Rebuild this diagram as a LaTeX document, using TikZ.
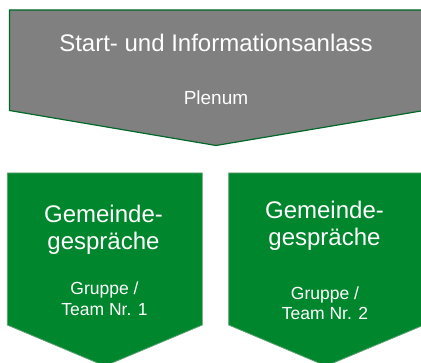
\documentclass[tikz,border=0pt]{standalone}
\usepackage{fontspec}
\setmainfont{Liberation Sans}
\definecolor{topgray}{RGB}{128,128,128}
\definecolor{topline}{RGB}{0,105,40}
\definecolor{boxgreen}{RGB}{0,134,45}
\definecolor{boxline}{RGB}{95,160,115}
\tikzset{
  topshape/.style={fill=topgray, draw=topline, line width=1.2pt, line join=miter},
  greenshape/.style={fill=boxgreen, draw=boxline, line width=0.8pt, line join=miter},
  bigtxt/.style={text=white, inner sep=0pt, anchor=base, font=\fontsize{24}{26}\selectfont},
  midtxt/.style={text=white, inner sep=0pt, anchor=base, font=\fontsize{19}{21}\selectfont},
  smalltxt/.style={text=white, inner sep=0pt, anchor=base, font=\fontsize{17.5}{20}\selectfont}
}
\begin{document}
\begin{tikzpicture}[x=1pt,y=-1pt]
\useasboundingbox (0,0) rectangle (421,363);
\clip (0,0) rectangle (421,363);
% top gray pentagon
\draw[topshape] (9.5,10) -- (424,10) -- (424,110.5) -- (216,145.5) -- (9.5,110.5) -- cycle;
% green pentagons
\draw[greenshape] (7.3,173) -- (202.3,173) -- (202.3,325) -- (104.8,366) -- (7.3,325) -- cycle;
\draw[greenshape] (228.7,173) -- (424,173) -- (424,325) -- (326,366) -- (228.7,325) -- cycle;
% texts
\node[bigtxt] (title) at (216,52) {Start- und Informationsanlass};
\node[midtxt] (plenum) at (216,105) {Plenum};
\node[bigtxt] (g1a) at (103.5,222.7) {Gemeinde-};
\node[bigtxt] (g1b) at (103.5,250) {gespräche};
\node[smalltxt] (t1a) at (104.5,295) {Gruppe /};
\node[smalltxt] (t1b) at (104.5,315.7) {Team Nr. 1};
\node[bigtxt] (g2a) at (324.5,218.3) {Gemeinde-};
\node[bigtxt] (g2b) at (324.5,245.7) {gespräche};
\node[smalltxt] (t2a) at (325,300) {Gruppe /};
\node[smalltxt] (t2b) at (325,320) {Team Nr. 2};
\end{tikzpicture}
\end{document}
